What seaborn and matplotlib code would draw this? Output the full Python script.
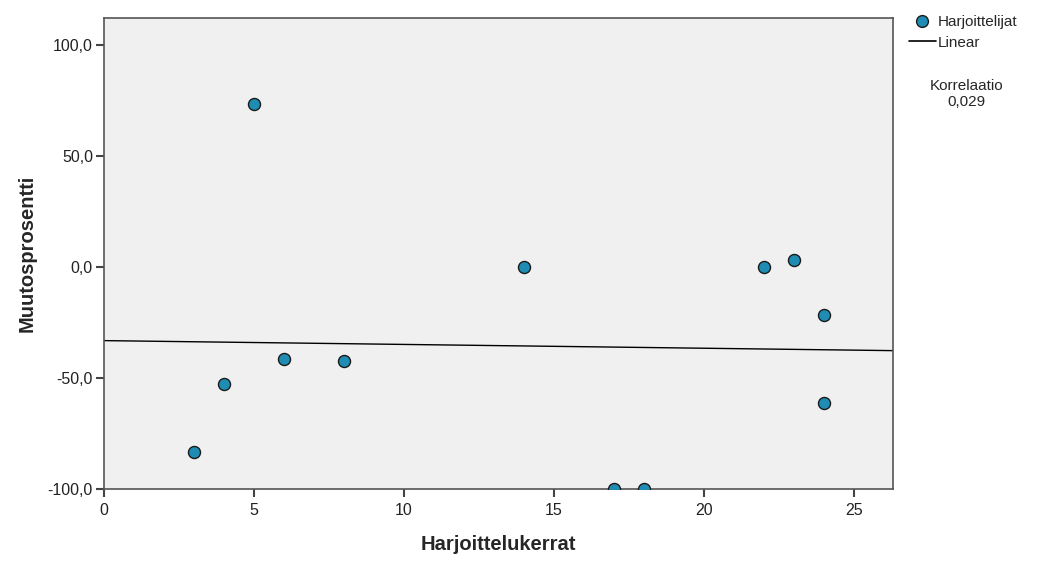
import numpy as np
import pandas as pd
import seaborn as sns
import matplotlib.pyplot as plt
from matplotlib.lines import Line2D
from matplotlib.ticker import FuncFormatter

# data
harjoittelukerrat = [3, 4, 5, 6, 8, 14, 17, 18, 22, 23, 24, 24]
muutosprosentti = [-83.3, -52.7, 73.4, -41.4, -42.3, 0.0, -100.0, -100.0, 0.0, 3.2, -21.6, -61.3]
x_ticks = [0, 5, 10, 15, 20, 25]
y_ticks = [-100, -50, 0, 50, 100]

df = pd.DataFrame({"Harjoittelukerrat": harjoittelukerrat, "Muutosprosentti": muutosprosentti})
r = np.corrcoef(df["Harjoittelukerrat"], df["Muutosprosentti"])[0, 1]

sns.set_style("ticks")
plt.rcParams["font.family"] = ["Liberation Sans", "DejaVu Sans"]

fig = plt.figure(figsize=(10.43, 5.70), dpi=100)
ax = fig.add_axes([0.0997, 0.142, 0.7565, 0.826])
ax.set_facecolor("#F0F0F0")
ax.set_xlim(0, 26.3)
ax.set_ylim(-100, 112.2)

sns.regplot(data=df, x="Harjoittelukerrat", y="Muutosprosentti", scatter=False, ci=None,
            truncate=False, color="black", line_kws={"lw": 1.0}, ax=ax)
sns.scatterplot(data=df, x="Harjoittelukerrat", y="Muutosprosentti", color="#1F8DB3",
                edgecolor="#1a1a1a", linewidth=1.0, s=75, zorder=3, clip_on=True, ax=ax)
ax.set_xlim(0, 26.3)
ax.set_ylim(-100, 112.2)

ax.set_xticks(x_ticks)
ax.set_yticks(y_ticks)
ax.yaxis.set_major_formatter(FuncFormatter(lambda v, p: f"{v:.1f}".replace(".", ",")))
ax.tick_params(axis="both", direction="out", length=6, width=1.5, color="#444444",
               labelsize=11.5, labelcolor="#222222", pad=2)
ax.tick_params(axis="x", pad=4)
for sp in ax.spines.values():
    sp.set_visible(True)
    sp.set_color("#555555")
    sp.set_linewidth(1.2)

ax.set_xlabel("Harjoittelukerrat", fontsize=14.5, fontweight="bold", labelpad=12)
ax.set_ylabel("Muutosprosentti", fontsize=14.5, fontweight="bold", labelpad=8)

handles = [
    Line2D([], [], marker="o", ls="", markerfacecolor="#1F8DB3", markeredgecolor="#1a1a1a",
           markersize=8.5),
    Line2D([], [], color="black", lw=1.2),
]
ax.legend(handles, ["Harjoittelijat", "Linear"], loc="upper left", bbox_to_anchor=(1.012, 1.02),
          frameon=False, fontsize=11, handlelength=1.8, handletextpad=0.1,
          labelspacing=0.45, borderaxespad=0)

fig.text(0.927, 0.835, "Korrelaatio\n" + f"{abs(r):.3f}".replace(".", ","), ha="center",
         va="center", fontsize=11, linespacing=1.1)

fig.savefig("out.png", dpi=100)
